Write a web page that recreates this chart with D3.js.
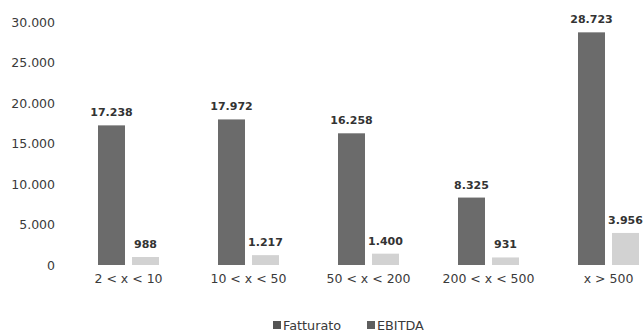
<!DOCTYPE html>
<html>
<head>
<meta charset="utf-8">
<script src="https://cdn.jsdelivr.net/npm/d3@7"></script>
<style>
  html, body { margin: 0; padding: 0; background: #fff; }
  svg { display: block; font-family: "DejaVu Sans", sans-serif; }
</style>
</head>
<body>
<svg id="chart" width="644" height="333"></svg>
<script>
// Fatturato and EBITDA by size class
const categories = ["2 < x < 10", "10 < x < 50", "50 < x < 200", "200 < x < 500", "x > 500"];
const seriesNames = ["Fatturato", "EBITDA"];
const fatturato = [17238, 17972, 16258, 8325, 28723];
const ebitda = [988, 1217, 1400, 931, 3956];
const yTicks = [0, 5000, 10000, 15000, 20000, 25000, 30000];

const seriesValues = { "Fatturato": fatturato, "EBITDA": ebitda };
const colors = { "Fatturato": "#6b6b6b", "EBITDA": "#d2d2d2" };
const legendColors = { "Fatturato": "#555555", "EBITDA": "#5e5e5e" };

const svg = d3.select("#chart");

const x0 = d3.scaleBand().domain(categories).range([68.5, 668.5]).padding(0);
const x1 = d3.scaleBand().domain(seriesNames).range([29.5, 90.5]).paddingInner(0.206).paddingOuter(0);
const y = d3.scaleLinear().domain([0, 30000]).range([265, 22]);

const fmt = v => d3.format(",")(v).replace(/,/g, ".");

// y axis labels only (no line, no ticks)
const yAxis = d3.axisLeft(y).tickValues(yTicks).tickSize(0).tickPadding(0).tickFormat(fmt);
const gy = svg.append("g").attr("transform", "translate(55,0)").call(yAxis);
gy.select(".domain").remove();
gy.selectAll("text")
  .attr("fill", "#3a3a3a")
  .style("font-size", "12.5px")
  .style("font-family", "DejaVu Sans, sans-serif");

// category labels
const xAxis = d3.axisBottom(x0).tickSize(0).tickPadding(0);
const gx = svg.append("g").attr("transform", "translate(0,274)").call(xAxis);
gx.select(".domain").remove();
gx.selectAll("text")
  .attr("fill", "#3a3a3a")
  .style("font-size", "12.5px")
  .style("font-family", "DejaVu Sans, sans-serif");

// bars
const groups = svg.append("g").selectAll("g")
  .data(categories)
  .join("g")
  .attr("transform", d => `translate(${x0(d)},0)`);

const rows = (cat, i) => seriesNames.map(s => ({ series: s, value: seriesValues[s][i] }));

groups.selectAll("rect")
  .data(rows)
  .join("rect")
  .attr("x", d => x1(d.series))
  .attr("width", x1.bandwidth())
  .attr("y", d => y(d.value))
  .attr("height", d => y(0) - y(d.value))
  .attr("fill", d => colors[d.series]);

groups.selectAll("text.value")
  .data(rows)
  .join("text")
  .attr("class", "value")
  .attr("x", d => x1(d.series) + x1.bandwidth() / 2)
  .attr("y", d => y(d.value) - 9)
  .attr("text-anchor", "middle")
  .attr("fill", "#333")
  .style("font-size", "11px")
  .style("font-weight", "bold")
  .text(d => fmt(d.value));

// legend
const legend = svg.append("g").attr("transform", "translate(273,321)");
const legendX = { "Fatturato": 0, "EBITDA": 94 };
const li = legend.selectAll("g").data(seriesNames).join("g")
  .attr("transform", d => `translate(${legendX[d]},0)`);
li.append("rect").attr("width", 8).attr("height", 8).attr("fill", d => legendColors[d]);
li.append("text")
  .attr("x", 10).attr("y", 8.5)
  .attr("fill", "#3a3a3a")
  .style("font-size", "12.8px")
  .text(d => d);
</script>
</body>
</html>
